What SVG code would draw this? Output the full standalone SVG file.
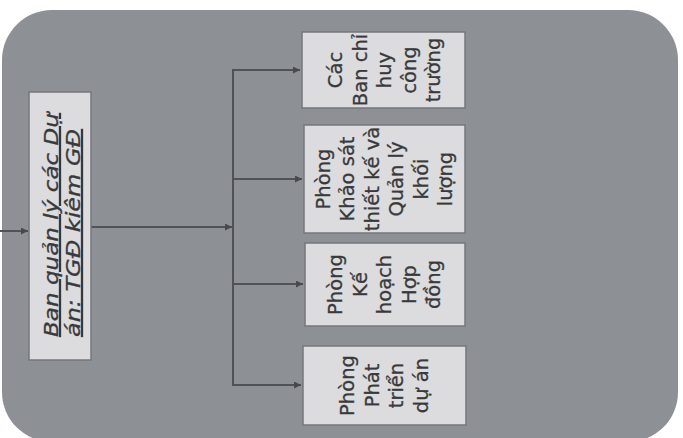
<svg xmlns="http://www.w3.org/2000/svg" width="683" height="438" viewBox="0 0 683 438">
<style>
.bg{fill:#8d9095;}
.box{fill:#dcdcde;stroke:#74777c;stroke-width:1.5;}
.t{font-family:"DejaVu Sans","Liberation Sans",sans-serif;font-size:19.5px;fill:#38393c;stroke:#38393c;stroke-width:0.3;text-anchor:middle;}
.tl{font-family:"DejaVu Sans","Liberation Sans",sans-serif;font-size:20px;font-style:italic;fill:#38393c;stroke:#38393c;stroke-width:0.3;text-decoration:underline;}
.c{stroke:#505257;stroke-width:2;fill:none;}
</style>
<defs>
<marker id="ah" viewBox="0 0 10 10" refX="10" refY="5" markerWidth="9" markerHeight="7" markerUnits="userSpaceOnUse" orient="auto">
<path d="M0,0 L10,5 L0,10 z" fill="#47494d"/>
</marker>
</defs>
<rect class="bg" x="2" y="10" width="676" height="432" rx="50" ry="50"/>
<g id="connectors">
<line class="c" x1="0" y1="231" x2="28" y2="231" marker-end="url(#ah)"/>
<line class="c" x1="91" y1="227" x2="232" y2="227" marker-end="url(#ah)"/>
<line class="c" x1="233" y1="69" x2="233" y2="386"/>
<line class="c" x1="233" y1="70" x2="300" y2="70" marker-end="url(#ah)"/>
<line class="c" x1="233" y1="179" x2="302" y2="179" marker-end="url(#ah)"/>
<line class="c" x1="233" y1="284" x2="303" y2="284" marker-end="url(#ah)"/>
<line class="c" x1="233" y1="385" x2="301" y2="385" marker-end="url(#ah)"/>
</g>
<g id="ban-quan-ly">
<rect class="box" x="29" y="92" width="62" height="268"/>
<g transform="translate(60,226) rotate(-90)">
<text class="tl" x="-111" y="-2" textLength="224" lengthAdjust="spacingAndGlyphs">Ban quản lý các Dự</text>
<text class="tl" x="-111" y="20" textLength="208" lengthAdjust="spacingAndGlyphs">án: TGĐ kiêm GĐ</text>
</g>
</g>
<g id="ban-chi-huy">
<rect class="box" x="302" y="32" width="163" height="76"/>
<g transform="translate(384,70) rotate(-90)">
<text class="t" x="0" y="-42">Các</text>
<text class="t" x="0" y="-17.5">Ban chỉ</text>
<text class="t" x="0" y="7">huy</text>
<text class="t" x="0" y="31.5">công</text>
<text class="t" x="0" y="56">trường</text>
</g>
</g>
<g id="phong-khao-sat">
<rect class="box" x="304" y="125" width="161" height="108"/>
<g transform="translate(384,179) rotate(-90)">
<text class="t" x="0" y="-54.25">Phòng</text>
<text class="t" x="0" y="-29.75">Khảo sát</text>
<text class="t" x="0" y="-5.25">thiết kế và</text>
<text class="t" x="0" y="19.25">Quản lý</text>
<text class="t" x="0" y="43.75">khối</text>
<text class="t" x="0" y="68.25">lượng</text>
</g>
</g>
<g id="phong-ke-hoach">
<rect class="box" x="305" y="243" width="160" height="83"/>
<g transform="translate(384,284.5) rotate(-90)">
<text class="t" x="0" y="-42">Phòng</text>
<text class="t" x="0" y="-17.5">Kế</text>
<text class="t" x="0" y="7">hoạch</text>
<text class="t" x="0" y="31.5">Hợp</text>
<text class="t" x="0" y="56">đồng</text>
</g>
</g>
<g id="phong-phat-trien">
<rect class="box" x="303" y="346" width="163" height="79"/>
<g transform="translate(384,385.5) rotate(-90)">
<text class="t" x="0" y="-29.75">Phòng</text>
<text class="t" x="0" y="-5.25">Phát</text>
<text class="t" x="0" y="19.25">triển</text>
<text class="t" x="0" y="43.75">dự án</text>
</g>
</g>
</svg>
